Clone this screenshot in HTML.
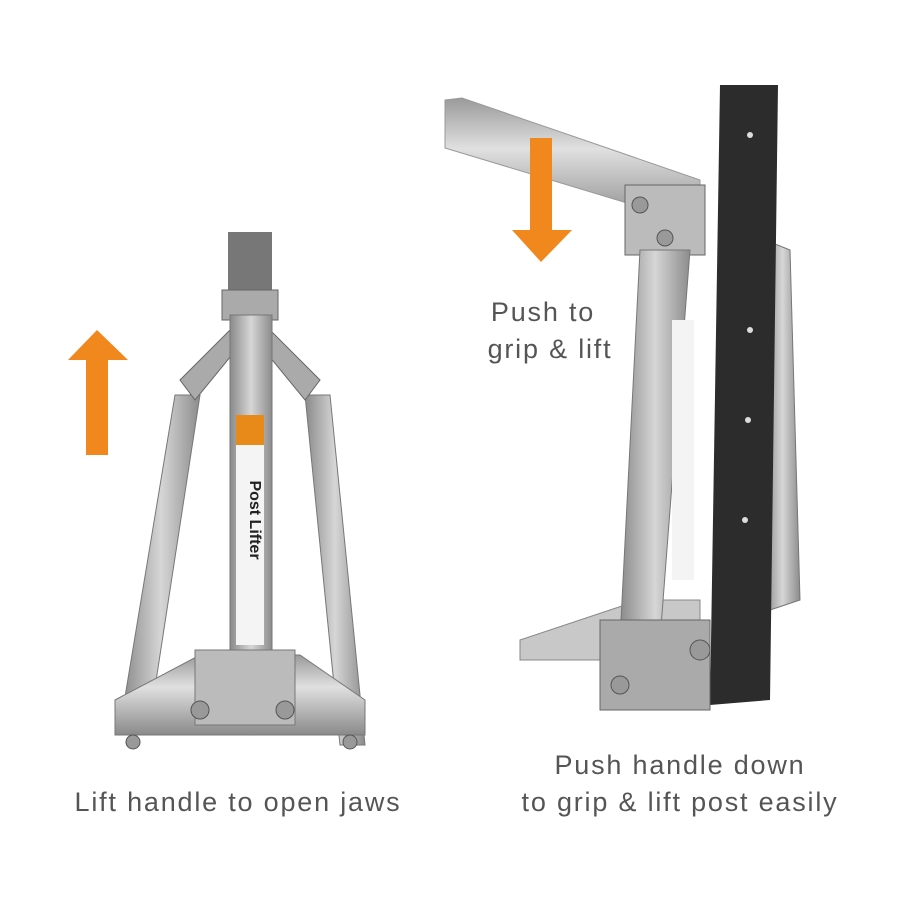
<!DOCTYPE html>
<html><head><meta charset="utf-8"><style>
html,body{margin:0;padding:0;background:#fff;}
svg{display:block}
text{font-family:"Liberation Sans",sans-serif;fill:#555;font-size:27px;letter-spacing:1.8px;text-anchor:middle}
</style></head><body>
<svg width="900" height="900" viewBox="0 0 900 900" xmlns="http://www.w3.org/2000/svg">
<defs>
<linearGradient id="m" x1="0" x2="1"><stop offset="0" stop-color="#8a8a8a"/><stop offset=".5" stop-color="#d6d6d6"/><stop offset="1" stop-color="#8c8c8c"/></linearGradient>
<linearGradient id="t" x1="0" x2="0" y1="0" y2="1"><stop offset="0" stop-color="#9a9a9a"/><stop offset=".4" stop-color="#e0e0e0"/><stop offset="1" stop-color="#8a8a8a"/></linearGradient>
</defs>
<rect x="228" y="232" width="44" height="70" fill="#777"/>
<rect x="222" y="290" width="56" height="30" fill="#aaa" stroke="#666"/>
<polygon points="175,395 200,395 150,720 122,715" fill="url(#m)" stroke="#777"/>
<polygon points="305,395 330,395 365,745 340,745" fill="url(#m)" stroke="#777"/>
<polygon points="180,380 230,330 240,345 195,400" fill="#aaa" stroke="#666"/>
<polygon points="320,380 270,330 260,345 305,400" fill="#aaa" stroke="#666"/>
<rect x="230" y="315" width="42" height="370" fill="url(#m)" stroke="#777"/>
<rect x="236" y="415" width="28" height="230" fill="#f4f4f4"/>
<rect x="236" y="415" width="28" height="30" fill="#e88a1a"/>
<text x="250" y="520" transform="rotate(90 250 520)" style="font-size:16px;font-weight:bold;fill:#222;letter-spacing:0">Post Lifter</text>
<polygon points="115,700 200,655 300,655 365,700 365,735 115,735" fill="url(#t)" stroke="#777"/>
<rect x="195" y="650" width="100" height="75" fill="#bbb" stroke="#777"/>
<circle cx="200" cy="710" r="9" fill="#999" stroke="#555"/><circle cx="285" cy="710" r="9" fill="#999" stroke="#555"/>
<circle cx="133" cy="742" r="7" fill="#999" stroke="#555"/><circle cx="350" cy="742" r="7" fill="#999" stroke="#555"/>
<rect x="86" y="358" width="22" height="97" fill="#f0881e"/>
<polygon points="68,360 128,360 97,330" fill="#f0881e"/>
<polygon points="445,100 462,98 700,180 700,225 445,148" fill="url(#t)" stroke="#999"/>
<polygon points="520,640 640,600 700,600 700,660 520,660" fill="#c8c8c8" stroke="#888"/>
<rect x="625" y="185" width="80" height="70" fill="#bbb" stroke="#666"/>
<polygon points="640,250 690,250 660,640 620,640" fill="url(#m)" stroke="#777"/>
<rect x="672" y="320" width="22" height="260" fill="#f4f4f4"/>
<polygon points="765,240 790,250 800,600 770,610" fill="url(#m)" stroke="#777"/>
<polygon points="720,85 778,85 770,700 710,705" fill="#2c2c2c"/>
<circle cx="750" cy="135" r="3" fill="#ddd"/><circle cx="750" cy="330" r="3" fill="#ddd"/><circle cx="748" cy="420" r="3" fill="#ddd"/><circle cx="745" cy="520" r="3" fill="#ddd"/>
<rect x="600" y="620" width="110" height="90" fill="#aaa" stroke="#666"/>
<circle cx="620" cy="685" r="9" fill="#999" stroke="#555"/><circle cx="700" cy="650" r="10" fill="#999" stroke="#555"/>
<circle cx="640" cy="205" r="8" fill="#999" stroke="#555"/><circle cx="665" cy="238" r="8" fill="#999" stroke="#555"/>
<rect x="530" y="138" width="22" height="94" fill="#f0881e"/>
<polygon points="512,230 572,230 541,262" fill="#f0881e"/>
<text x="543" y="321">Push to</text>
<text x="550" y="358">grip &amp; lift</text>
<text x="238" y="811">Lift handle to open jaws</text>
<text x="680" y="774">Push handle down</text>
<text x="680" y="811">to grip &amp; lift post easily</text>
</svg>
</body></html>
